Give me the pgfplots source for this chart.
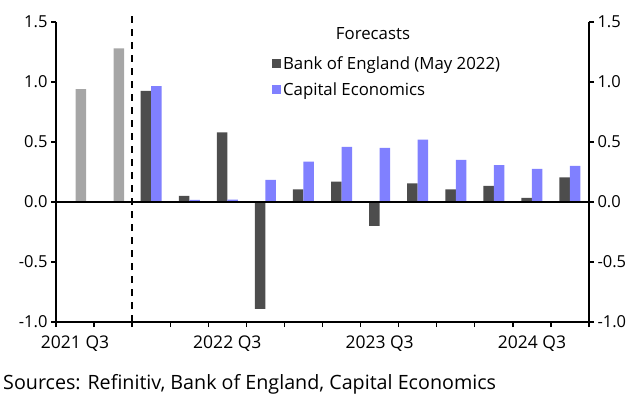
\documentclass[border=0pt]{standalone}
\usepackage{fontspec}
\setmainfont{Open Sans}
\usepackage{pgfplots}
\pgfplotsset{compat=1.18}
\definecolor{boe}{HTML}{4D4D4D}
\definecolor{ce}{HTML}{8080FF}
\definecolor{act}{HTML}{A6A6A6}
\pgfplotsset{
  common/.style={
    at={(0,0)}, anchor=south west,
    scale only axis, width=533bp, height=300bp,
    xmin=-0.5, xmax=13.5, ymin=-1, ymax=1.5,
    ytick={-1,-0.5,0,0.5,1,1.5},
    /pgf/number format/assume math mode=true,
    yticklabel style={/pgf/number format/.cd, fixed, fixed zerofill, precision=1},
    tick label style={font=\fontsize{16.5bp}{19bp}\selectfont},
    tick align=outside, major tick length=5bp, minor tick length=5bp,
    axis line style={line width=1.6bp, black},
    tick style={line width=1.4bp, black},
    clip=false,
  }
}
\begin{document}
\begin{tikzpicture}[font=\fontsize{16.8bp}{19bp}\selectfont]
\begin{axis}[common,
  axis x line*=bottom, axis y line*=left,
  xtick={0,4,8,12}, xticklabels={2021 Q3,2022 Q3,2023 Q3,2024 Q3},
  xticklabel style={yshift=-5bp, font=\fontsize{17.5bp}{20bp}\selectfont},
  major x tick style={draw=none},
  minor xtick={-0.5,0.5,...,13.5},
  bar width=10.5bp,
  legend style={at={(0.405,0.893)}, anchor=north west, draw=none, fill=none,
    inner sep=0pt, row sep=8bp, nodes={inner sep=2bp}},
  legend cell align=left,
  legend image code/.code={\fill[#1] (0bp,-4.5bp) rectangle (9bp,4.5bp);},
]
\addplot[ybar, fill=act, draw=none, bar shift=5.75bp, forget plot] coordinates {(0,0.94) (1,1.28)};
\addplot[ybar, fill=boe, draw=none, bar shift=-5.25bp] coordinates {
(2,0.925) (3,0.05) (4,0.58) (5,-0.89) (6,0.105) (7,0.17) (8,-0.20) (9,0.155) (10,0.105) (11,0.135) (12,0.035) (13,0.205)};
\addlegendentry{Bank of England (May 2022)}
\addplot[ybar, fill=ce, draw=none, bar shift=5.25bp] coordinates {
(2,0.965) (3,0.018) (4,0.02) (5,0.185) (6,0.337) (7,0.46) (8,0.45) (9,0.52) (10,0.352) (11,0.308) (12,0.276) (13,0.30)};
\addlegendentry{Capital Economics}
\draw[line width=1.8bp, black] (axis cs:-0.5,0) -- (axis cs:13.5,0);
\draw[line width=2bp, black, dash pattern=on 7bp off 6bp] (axis cs:1.5,-1) -- (axis cs:1.5,1.56);
\end{axis}
\begin{axis}[common,
  axis x line=none, axis y line*=right,
]
\addplot[draw=none, forget plot] coordinates {(0,0)};
\end{axis}
\node[anchor=base] at (317bp,282bp) {Forecasts};
\node[anchor=base west, inner sep=0pt, font=\fontsize{19.7bp}{22bp}\selectfont] at (-53bp,-67bp) {Sources: Refinitiv, Bank of England, Capital Economics};
\pgfresetboundingbox
\path (-56bp,-77bp) rectangle (588bp,322bp);
\end{tikzpicture}
\end{document}
